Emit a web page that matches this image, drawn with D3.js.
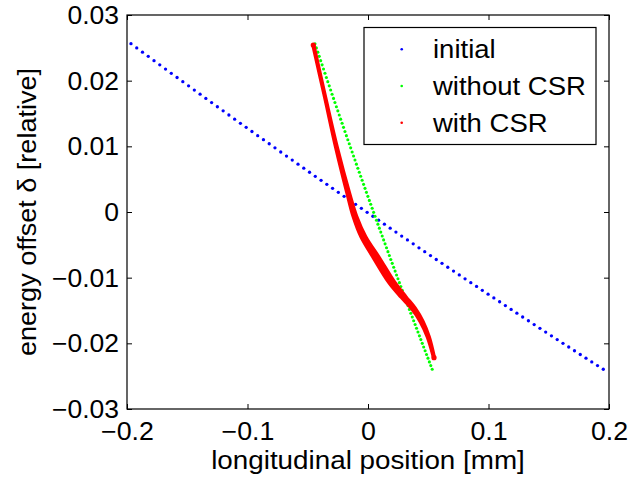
<!DOCTYPE html>
<html><head><meta charset="utf-8">
<script src="https://cdn.jsdelivr.net/npm/d3@7"></script>
<style>html,body{margin:0;padding:0;background:#fff;}svg{display:block;}</style>
</head><body>
<script>
// ---- data ----
const xTicks = [-0.2, -0.1, 0, 0.1, 0.2];
const yTicks = [-0.03, -0.02, -0.01, 0, 0.01, 0.02, 0.03];
const seriesNames = ["initial", "without CSR", "with CSR"];

const initialX = [-0.19670,-0.19192,-0.18714,-0.18236,-0.17758,-0.17280,-0.16802,-0.16324,-0.15846,-0.15368,-0.14890,-0.14412,-0.13934,-0.13456,-0.12978,-0.12500,-0.12022,-0.11544,-0.11066,-0.10588,-0.10110,-0.09632,-0.09154,-0.08676,-0.08198,-0.07720,-0.07242,-0.06764,-0.06286,-0.05808,-0.05330,-0.04852,-0.04374,-0.03896,-0.03418,-0.02940,-0.02462,-0.01984,-0.01506,-0.01028,-0.00550,-0.00072,0.00406,0.00884,0.01362,0.01840,0.02318,0.02796,0.03274,0.03752,0.04230,0.04708,0.05186,0.05664,0.06142,0.06620,0.07098,0.07576,0.08054,0.08532,0.09010,0.09488,0.09966,0.10444,0.10922,0.11400,0.11878,0.12356,0.12834,0.13312,0.13790,0.14268,0.14746,0.15224,0.15702,0.16180,0.16658,0.17136,0.17614,0.18092,0.18570,0.19048,0.19526];
const delta = [0.02563,0.02499,0.02434,0.02370,0.02305,0.02241,0.02177,0.02112,0.02048,0.01985,0.01921,0.01857,0.01794,0.01730,0.01667,0.01603,0.01540,0.01477,0.01414,0.01351,0.01289,0.01226,0.01163,0.01101,0.01039,0.00977,0.00914,0.00852,0.00791,0.00729,0.00667,0.00605,0.00544,0.00483,0.00421,0.00360,0.00299,0.00238,0.00177,0.00117,0.00056,-0.00005,-0.00065,-0.00125,-0.00185,-0.00246,-0.00306,-0.00366,-0.00425,-0.00485,-0.00545,-0.00604,-0.00663,-0.00723,-0.00782,-0.00841,-0.00900,-0.00959,-0.01017,-0.01076,-0.01134,-0.01193,-0.01251,-0.01309,-0.01367,-0.01425,-0.01483,-0.01541,-0.01599,-0.01656,-0.01714,-0.01771,-0.01828,-0.01886,-0.01943,-0.02000,-0.02056,-0.02113,-0.02170,-0.02226,-0.02283,-0.02339,-0.02395];
const noCsrX = [-0.04399,-0.04282,-0.04163,-0.04046,-0.03927,-0.03809,-0.03691,-0.03571,-0.03453,-0.03336,-0.03217,-0.03098,-0.02981,-0.02861,-0.02743,-0.02623,-0.02505,-0.02387,-0.02268,-0.02149,-0.02032,-0.01912,-0.01793,-0.01675,-0.01556,-0.01438,-0.01317,-0.01199,-0.01081,-0.00962,-0.00843,-0.00723,-0.00605,-0.00487,-0.00366,-0.00248,-0.00129,-0.00010,0.00109,0.00227,0.00347,0.00466,0.00585,0.00703,0.00822,0.00942,0.01061,0.01180,0.01298,0.01417,0.01537,0.01655,0.01773,0.01893,0.02012,0.02131,0.02250,0.02369,0.02486,0.02606,0.02723,0.02843,0.02961,0.03080,0.03198,0.03317,0.03436,0.03555,0.03674,0.03791,0.03911,0.04028,0.04146,0.04267,0.04385,0.04503,0.04620,0.04739,0.04858,0.04975,0.05094,0.05212,0.05329];
const csrX = [-0.04539,-0.03568,-0.02598,-0.01635,-0.01079,-0.00390,0.00722,0.01950,0.02946,0.03759,0.04456,0.05004,0.05477];
const csrDelta = [0.02543,0.01755,0.00970,0.00285,-0.00071,-0.00376,-0.00705,-0.01066,-0.01294,-0.01466,-0.01670,-0.01903,-0.02219];
const csrSpread = [0,0,0.0003,0.0007,0.0011,0.0016,0.0021,0.0021,0.0017,0.0012,0.0008,0.0004,0];
const colors = ["#0000ff", "#00ff00", "#ff0000"];

// ---- drawing ----
const W = 634, H = 480;
const FONT = "'Liberation Sans', Arial, Helvetica, sans-serif";
const svg = d3.select("body").append("svg").attr("width", W).attr("height", H);
const x = d3.scaleLinear().domain([-0.2, 0.2]).range([127, 609]);
const y = d3.scaleLinear().domain([-0.03, 0.03]).range([409, 15]);

function stretch(sel, k) {
  sel.each(function() {
    const len = this.getComputedTextLength();
    d3.select(this).attr("textLength", len * k).attr("lengthAdjust", "spacingAndGlyphs");
  });
}
const fmt = v => v === 0 ? "0" : (v < 0 ? "\u2212" : "") + String(Math.abs(v));

// axes
const gB = svg.append("g").attr("transform", `translate(0,${y(-0.03)})`)
  .call(d3.axisBottom(x).tickValues(xTicks).tickFormat(fmt).tickSizeInner(-5).tickSizeOuter(0).tickPadding(13));
const gL = svg.append("g").attr("transform", `translate(${x(-0.2)},0)`)
  .call(d3.axisLeft(y).tickValues(yTicks).tickFormat(fmt).tickSizeInner(-5).tickSizeOuter(0).tickPadding(8));
const gT = svg.append("g").attr("transform", `translate(0,${y(0.03)})`)
  .call(d3.axisTop(x).tickValues(xTicks).tickFormat("").tickSizeInner(-5).tickSizeOuter(0));
const gR = svg.append("g").attr("transform", `translate(${x(0.2)},0)`)
  .call(d3.axisRight(y).tickValues(yTicks).tickFormat("").tickSizeInner(-5).tickSizeOuter(0));
[gB, gL, gT, gR].forEach(g => {
  g.select(".domain").remove();
  g.selectAll("line").attr("stroke", "#000").attr("stroke-width", 1);
  g.selectAll("text").attr("font-family", FONT).attr("font-size", 25).attr("fill", "#000");
});
gL.selectAll("text").attr("dy", "0.34em");
stretch(gB.selectAll("text"), 1.07);
stretch(gL.selectAll("text"), 1.06);

svg.append("rect").attr("x", x(-0.2)).attr("y", y(0.03))
  .attr("width", x(0.2) - x(-0.2)).attr("height", y(-0.03) - y(0.03))
  .attr("fill", "none").attr("stroke", "#000").attr("stroke-width", 1.2);

// axis labels
svg.append("text").attr("x", (x(-0.2) + x(0.2)) / 2).attr("y", 469)
  .attr("text-anchor", "middle").attr("font-family", FONT).attr("font-size", 25.5)
  .text("longitudinal position [mm]").call(stretch, 1.09);
svg.append("text").attr("transform", `translate(36,${(y(0.03) + y(-0.03)) / 2}) rotate(-90)`)
  .attr("text-anchor", "middle").attr("font-family", FONT).attr("font-size", 25.5)
  .text("energy offset \u03b4 [relative]").call(stretch, 1.06);

// series
const plot = svg.append("g");
plot.selectAll("circle.init").data(initialX.map((v, i) => [v, delta[i]])).enter()
  .append("circle").attr("class", "init").attr("cx", d => x(d[0])).attr("cy", d => y(d[1]))
  .attr("r", 1.65).attr("fill", colors[0]);
plot.selectAll("circle.nocsr").data(noCsrX.map((v, i) => [v, delta[i]])).enter()
  .append("circle").attr("class", "nocsr").attr("cx", d => x(d[0])).attr("cy", d => y(d[1]))
  .attr("r", 1.55).attr("fill", colors[1]);
const csr = csrX.map((v, i) => ({x: v, d: csrDelta[i], s: csrSpread[i]}));
const band = d3.area().curve(d3.curveCatmullRom)
  .y(d => y(d.d)).x0(d => x(d.x - d.s)).x1(d => x(d.x + d.s));
plot.append("path").attr("d", band(csr)).attr("fill", colors[2])
  .attr("stroke", colors[2]).attr("stroke-width", 4.2).attr("stroke-linejoin", "round");
plot.selectAll("circle.csrEnd").data([csr[0], csr[csr.length - 1]]).enter()
  .append("circle").attr("cx", d => x(d.x)).attr("cy", d => y(d.d)).attr("r", 2.6).attr("fill", colors[2]);

// legend
const lg = svg.append("g");
lg.append("rect").attr("x", 364).attr("y", 27.5).attr("width", 232).attr("height", 117)
  .attr("fill", "#fff").attr("stroke", "#000").attr("stroke-width", 1.2);
seriesNames.forEach((name, i) => {
  const cy = 49.3 + i * 36.7;
  lg.append("circle").attr("cx", 401.7).attr("cy", cy).attr("r", 1.3).attr("fill", colors[i]);
  lg.append("text").attr("x", 433).attr("y", cy).attr("dy", "0.36em")
    .attr("font-family", FONT).attr("font-size", 25).text(name).call(stretch, 1.1);
});
</script>
</body></html>
